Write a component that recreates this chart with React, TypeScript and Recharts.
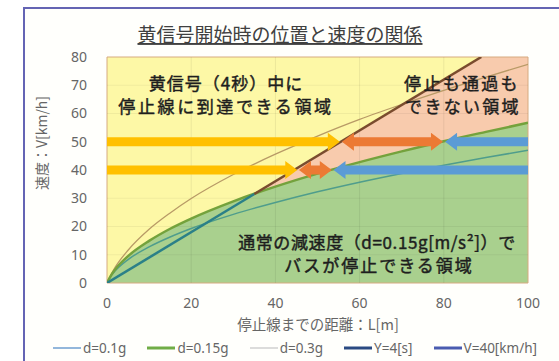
import { ComposedChart, Area, Line, XAxis, YAxis, ReferenceLine, ReferenceArea } from 'recharts'

const xTicks = [0, 20, 40, 60, 80, 100]
const yTicks = [0, 10, 20, 30, 40, 50, 60, 70, 80]

// distance to stop line L[m] and speed V[km/h]
const distance = [0, 1, 2, 5, 10, 15, 20, 30, 40, 50, 60, 70, 80, 90, 100]
const speedD01 = [0, 2.6, 4.4, 8.3, 12.8, 16.3, 19.3, 24.3, 28.5, 32.3, 35.7, 38.8, 41.7, 44.4, 47.0]
const speedD015 = [0, 2.8, 4.9, 9.5, 14.9, 19.2, 22.8, 28.9, 34.1, 38.7, 42.8, 46.6, 50.2, 53.5, 56.7]
const speedD03 = [0, 3.1, 5.7, 11.6, 19.0, 24.8, 29.9, 38.4, 45.6, 52.0, 57.9, 63.2, 68.2, 72.9, 77.4]

// 4 second line (split where it leaves the green region)
const fourSecLowL = [0, 35]
const fourSecLowV = [0, 31.5]
const fourSecHighL = [35, 88.9]
const fourSecHighV = [31.5, 80]

// pink region: under the 4s line, capped at the top of the plot
const pinkL = [0, 88.9, 100]
const pinkV = [0, 80, 80]
const yellowL = [0, 100]
const yellowV = [80, 80]

// arrows: speed, tail, tip
const arrowSpeed = [50, 50, 50, 40, 40, 40]
const arrowFrom = [0, 55.8, 100, 0, 45.6, 100]
const arrowTo = [55.3, 79.8, 80.3, 45.2, 53.4, 53.8]
const arrowColor = ['#ffc000', '#ec7a34', '#5b9bd5', '#ffc000', '#ec7a34', '#5b9bd5']
const arrowBoth = [false, true, false, false, true, false]

const legendLabels = ['d=0.1g', 'd=0.15g', 'd=0.3g', 'Y=4[s]', 'V=40[km/h]']
const legendColors = ['#6f9fd0', '#70ad47', '#d0d0d0', '#2a4a82', '#4a5cb0']
const legendWidths = [1.5, 3, 1.5, 3, 3]

const toRows = (xs: number[], ys: number[]) => xs.map((L, i) => ({ L, V: ys[i] }))

const JP = "'Noto Sans CJK JP', sans-serif"
const NUM = "'Noto Sans', sans-serif"

function makeArrow(color: string, both: boolean) {
  return (props: any) => {
    const { x1, y1, x2 } = props
    const y = y1
    const dir = Math.sign(x2 - x1) || 1
    const h = 4.5
    const H = 9
    const len = 12
    const pts: number[][] = []
    if (both) {
      pts.push([x1, y], [x1 + dir * len, y - H], [x1 + dir * len, y - h])
    } else {
      pts.push([x1, y - h])
    }
    pts.push([x2 - dir * len, y - h], [x2 - dir * len, y - H], [x2, y], [x2 - dir * len, y + H], [x2 - dir * len, y + h])
    if (both) {
      pts.push([x1 + dir * len, y + h], [x1 + dir * len, y + H])
    } else {
      pts.push([x1, y + h])
    }
    return <polygon points={pts.map((p) => p.join(',')).join(' ')} fill={color} />
  }
}

export default function App() {
  return (
    <div style={{ position: 'absolute', left: 0, top: 0, width: 559, height: 361, background: '#fff', overflow: 'hidden' }}>
      <svg width={559} height={361} style={{ position: 'absolute', left: 0, top: 0 }}>
        <rect x={24} y={8} width={600} height={400} fill="#fffffc" stroke="#6464b4" strokeWidth={2} />
      </svg>
      <div style={{ position: 'absolute', left: 0, top: 0 }}>
        <ComposedChart width={559} height={361} margin={{ top: 57, right: 31, bottom: 48, left: 67 }}>
          <XAxis
            type="number"
            dataKey="L"
            domain={[0, 100]}
            ticks={xTicks}
            height={30}
            axisLine={false}
            tickLine={false}
            tickSize={0}
            tickMargin={15}
            tick={{ fontSize: 14, fill: '#666', fontFamily: NUM }}
            allowDataOverflow
          />
          <YAxis
            type="number"
            domain={[0, 80]}
            ticks={yTicks}
            width={40}
            axisLine={false}
            tickLine={false}
            tickSize={0}
            tickMargin={20}
            tick={{ fontSize: 14, fill: '#666', fontFamily: NUM }}
            allowDataOverflow
          />
          <Area data={toRows(yellowL, yellowV)} dataKey="V" type="linear" fill="#fdf8a6" fillOpacity={1} stroke="none" isAnimationActive={false} />
          <Area data={toRows(pinkL, pinkV)} dataKey="V" type="linear" fill="#f8cbad" fillOpacity={1} stroke="none" isAnimationActive={false} />
          <Area data={toRows(distance, speedD015)} dataKey="V" type="monotone" fill="#a9d08e" fillOpacity={1} stroke="none" isAnimationActive={false} />
          {xTicks.slice(1, -1).map((t) => (
            <ReferenceLine key={'gx' + t} x={t} stroke="#000" strokeOpacity={0.07} />
          ))}
          {yTicks.slice(1, -1).map((t) => (
            <ReferenceLine key={'gy' + t} y={t} stroke="#000" strokeOpacity={0.05} />
          ))}
          <ReferenceArea x1={0} x2={100} y1={0} y2={80} fill="none" stroke="#d6aa80" strokeWidth={1} />
          <Line data={toRows(distance, speedD03)} dataKey="V" type="monotone" stroke="#b89a66" strokeWidth={1.3} dot={false} isAnimationActive={false} />
          <Line data={toRows(distance, speedD01)} dataKey="V" type="monotone" stroke="#4f9d8c" strokeWidth={1.5} dot={false} isAnimationActive={false} />
          <Line data={toRows(distance, speedD015)} dataKey="V" type="monotone" stroke="#74a23c" strokeWidth={2.5} dot={false} isAnimationActive={false} />
          <Line data={toRows(fourSecLowL, fourSecLowV)} dataKey="V" type="linear" stroke="#2b8088" strokeWidth={2.5} dot={false} isAnimationActive={false} />
          <Line data={toRows(fourSecHighL, fourSecHighV)} dataKey="V" type="linear" stroke="#7a4c2e" strokeWidth={2.5} dot={false} isAnimationActive={false} />
          {arrowSpeed.map((v, i) => (
            <ReferenceLine
              key={'arrow' + i}
              segment={[{ x: arrowFrom[i], y: v }, { x: arrowTo[i], y: v }]}
              stroke={arrowColor[i]}
              strokeWidth={9}
              shape={makeArrow(arrowColor[i], arrowBoth[i])}
            />
          ))}
        </ComposedChart>
      </div>
      <svg width={559} height={361} style={{ position: 'absolute', left: 0, top: 0, pointerEvents: 'none' }}>
        <text x={280} y={42} textAnchor="middle" fontSize={19} fill="#404040" fontFamily={JP} textDecoration="underline">
          黄信号開始時の位置と速度の関係
        </text>
        <g fontFamily={JP} fontSize={17} fill="#1e1e1e" stroke="#1e1e1e" strokeWidth={0.45} textAnchor="middle">
          <text x={226} y={90} letterSpacing={1}>黄信号（4秒）中に</text>
          <text x={226} y={113} letterSpacing={2.6}>停止線に到達できる領域</text>
          <text x={462} y={90} letterSpacing={2.3}>停止も通過も</text>
          <text x={463} y={113} letterSpacing={2.3}>できない領域</text>
          <text x={377} y={249} letterSpacing={0.6}>通常の減速度（d=0.15g[m/s²]）で</text>
          <text x={379} y={272} letterSpacing={2}>バスが停止できる領域</text>
        </g>
        <text x={318} y={330} textAnchor="middle" fontSize={14.5} fill="#666" fontFamily={JP}>
          停止線までの距離：L[m]
        </text>
        <text x={47} y={143} textAnchor="middle" fontSize={14} fill="#666" fontFamily={JP} transform="rotate(-90 47 143)">
          速度：V[km/h]
        </text>
      </svg>
      <div
        style={{
          position: 'absolute',
          left: 53,
          top: 339,
          width: 484,
          display: 'flex',
          justifyContent: 'space-between',
          fontFamily: NUM,
          fontSize: 13.5,
          color: '#666',
          lineHeight: '18px',
        }}
      >
        {legendLabels.map((label, i) => (
          <div key={label} style={{ display: 'flex', alignItems: 'center' }}>
            <svg width={28} height={10} style={{ marginRight: 2 }}>
              <line x1={0} y1={5} x2={28} y2={5} stroke={legendColors[i]} strokeWidth={legendWidths[i]} />
            </svg>
            <span>{label}</span>
          </div>
        ))}
      </div>
    </div>
  )
}
